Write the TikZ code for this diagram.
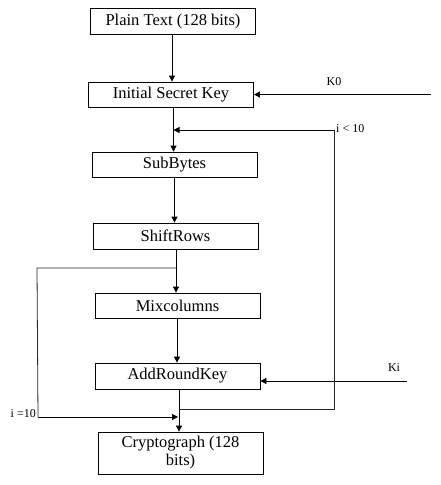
\documentclass[tikz,border=0pt]{standalone}
\usepackage{fontspec}
\setmainfont{Liberation Serif}
\usetikzlibrary{arrows.meta}
\begin{document}
\begin{tikzpicture}[x=1pt,y=-1pt,
  box/.style={draw=black,line width=0.8pt,rectangle,minimum width=165pt,minimum height=26pt,inner sep=1pt,font=\fontsize{16.5}{18}\selectfont,align=center},
  arr/.style={draw=black,line width=0.8pt,-{Triangle[length=6pt,width=6pt]}},
  ln/.style={draw=black!85,line width=0.8pt},
  lbl/.style={font=\fontsize{12}{14}\selectfont,inner sep=1pt}]
\useasboundingbox (0,0) rectangle (441,485);
\node[box] (plain) at (173,21.5) {Plain Text (128 bits)};
\node[box,minimum height=25pt] (init) at (171,94.5) {Initial Secret Key};
\node[box,minimum height=25pt] (sub) at (174.5,164.5) {SubBytes};
\node[box] (shift) at (175.5,236) {ShiftRows};
\node[box,minimum height=25pt] (mix) at (177.5,305.5) {Mixcolumns};
\node[box] (add) at (177.5,376) {AddRoundKey};
\node[box,minimum height=42pt] (crypt) at (180.5,453) {Cryptograph (128\\bits)};
% key inputs
\coordinate (k0) at (431,94.5);
\coordinate (ki) at (407,381);
\node[lbl] (k0l) at (334,82) {K0};
\node[lbl] (kil) at (394,368) {Ki};
% main chain
\coordinate (c1) at (172,34.5);
\draw[arr] (c1) -- (c1 |- init.north);
\coordinate (c2) at (173.5,107);
\draw[arr] (c2) -- (c2 |- sub.north);
\coordinate (c3) at (174.5,177);
\draw[arr] (c3) -- (c3 |- shift.north);
\coordinate (c4) at (176,249);
\draw[arr] (c4) -- (c4 |- mix.north);
\coordinate (c5) at (177,318);
\draw[arr] (c5) -- (c5 |- add.north);
\coordinate (c6) at (179,389);
\draw[arr] (c6) -- (c6 |- crypt.north);
% keys
\draw[arr] (k0) -- (init.east);
\draw[arr] (ki) -- (ki -| add.east);
% loop i<10
\coordinate (r1) at (334,130);
\coordinate (r2) at (334,409);
\coordinate (j1) at (173.5,130);
\coordinate (j2) at (179,409);
\draw[ln] (j2) -- (r2) -- (r1);
\draw[arr] (r1) -- (j1);
\node[lbl,anchor=west] (ilt) at (335,129) {i < 10};
% branch i=10
\coordinate (b0) at (176,268);
\coordinate (b1) at (37,268);
\coordinate (b2) at (38,417);
\coordinate (b3) at (178,417);
\draw[ln] (b0) -- (b1) -- (b2);
\draw[arr] (b2) -- (b3);
\node[lbl,anchor=east] (ieq) at (37,414) {i =10};
\end{tikzpicture}
\end{document}
